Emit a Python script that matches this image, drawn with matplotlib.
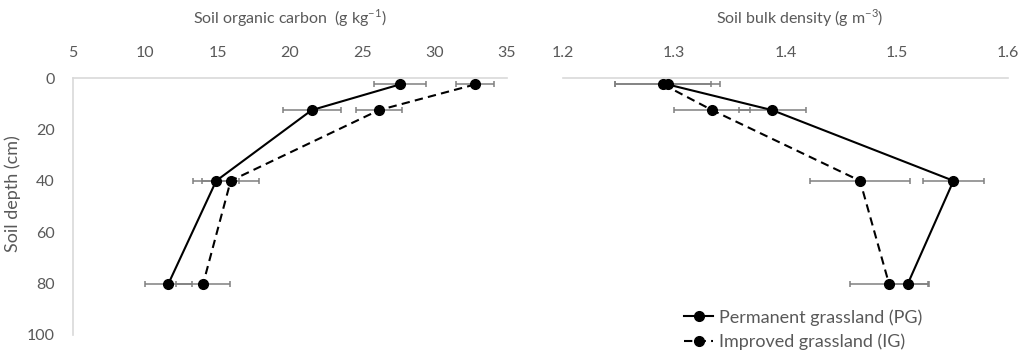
import matplotlib
matplotlib.use('Agg')
import matplotlib.pyplot as plt

plt.rcParams['font.family'] = ['Lato', 'DejaVu Sans']
plt.rcParams['mathtext.fontset'] = 'custom'
plt.rcParams['mathtext.rm'] = 'Lato'

# data
depth = [2.5, 12.5, 40, 80]

soc_pg = [27.6, 21.5, 14.9, 11.6]
soc_pg_err = [1.8, 2.0, 1.6, 1.6]
soc_ig = [32.8, 26.15, 15.9, 14.0]
soc_ig_err = [1.3, 1.6, 1.95, 1.85]

bd_pg = [1.294, 1.388, 1.551, 1.510]
bd_pg_err = [0.047, 0.030, 0.027, 0.019]
bd_ig = [1.290, 1.334, 1.467, 1.493]
bd_ig_err = [0.043, 0.034, 0.045, 0.035]

soc_ticks = [5, 10, 15, 20, 25, 30, 35]
bd_ticks = [1.2, 1.3, 1.4, 1.5, 1.6]
depth_ticks = [0, 20, 40, 60, 80, 100]

txt = '#595959'
grid = '#d9d9d9'
errc = '#808080'

fig = plt.figure(figsize=(10.21, 3.55), dpi=100)
ax1 = fig.add_axes([73/1021, 20/355, 434/1021, 257/355])
ax2 = fig.add_axes([563/1021, 20/355, 445/1021, 257/355])


def draw(ax, pg, pg_err, ig, ig_err):
    ax.errorbar(pg, depth, xerr=pg_err, fmt='none', ecolor=errc, elinewidth=1.1,
                capsize=2.5, capthick=1.1, zorder=1)
    ax.errorbar(ig, depth, xerr=ig_err, fmt='none', ecolor=errc, elinewidth=1.1,
                capsize=2.5, capthick=1.1, zorder=1)
    l1, = ax.plot(pg, depth, '-', color='black', lw=1.5, marker='o', ms=7,
                  label='Permanent grassland (PG)', zorder=3)
    l2, = ax.plot(ig, depth, '--', color='black', lw=1.5, marker='o', ms=7,
                  dashes=(4, 2.5), label='Improved grassland (IG)', zorder=3)
    ax.set_ylim(100, 0)
    ax.xaxis.tick_top()
    ax.tick_params(length=0, colors=txt, labelsize=11.5)
    ax.tick_params(axis='x', pad=13)
    for s in ['right', 'bottom']:
        ax.spines[s].set_visible(False)
    ax.spines['top'].set_color(grid)
    ax.spines['top'].set_linewidth(1.2)
    return l1, l2


draw(ax1, soc_pg, soc_pg_err, soc_ig, soc_ig_err)
ax1.set_xlim(5, 35)
ax1.set_xticks(soc_ticks)
ax1.set_yticks(depth_ticks)
ax1.tick_params(axis='y', pad=13)
ax1.spines['left'].set_color(grid)
ax1.spines['left'].set_linewidth(1.2)

h1, h2 = draw(ax2, bd_pg, bd_pg_err, bd_ig, bd_ig_err)
ax2.set_xlim(1.2, 1.6)
ax2.set_xticks(bd_ticks)
ax2.set_yticks([])
ax2.spines['left'].set_visible(False)

fig.text(290/1021, 1 - 18/355, r'Soil organic carbon  (g kg$^{-1}$)', ha='center',
         va='center', color=txt, fontsize=11.5)
fig.text(800/1021, 1 - 18/355, r'Soil bulk density (g m$^{-3}$)', ha='center',
         va='center', color=txt, fontsize=11.5)
fig.text(13/1021, 1 - 194/355, 'Soil depth (cm)', rotation=90, ha='center',
         va='center', color=txt, fontsize=13)

fig.legend(handles=[h1, h2], loc='upper left', bbox_to_anchor=(668/1021, 1 - 293/355),
           frameon=False, fontsize=13, labelcolor=txt, handlelength=1.6,
           handletextpad=0.3, labelspacing=0.45)

fig.savefig('out.png', dpi=100)
